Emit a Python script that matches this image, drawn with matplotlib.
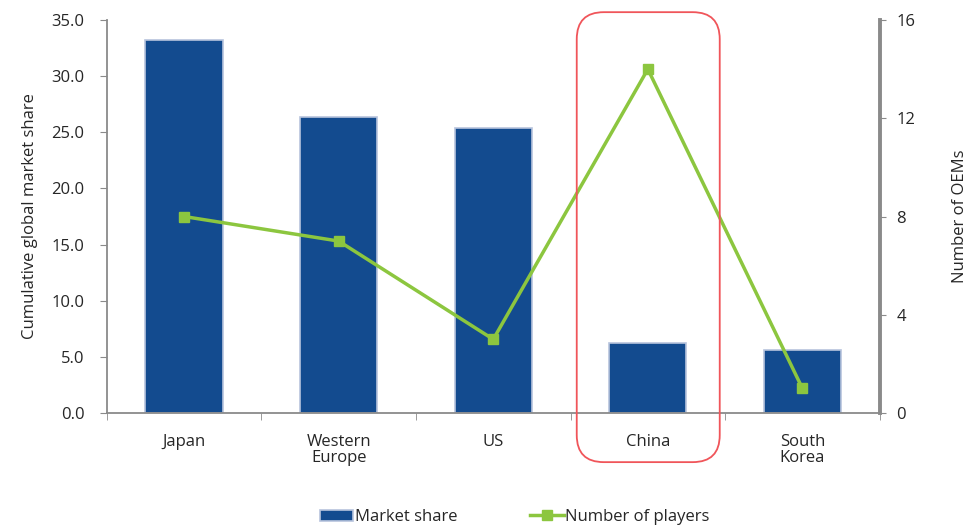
import matplotlib.pyplot as plt
from matplotlib.patches import FancyBboxPatch
import numpy as np

plt.rcParams['font.family'] = ['Open Sans', 'DejaVu Sans']

regions = ['Japan', 'Western\nEurope', 'US', 'China', 'South\nKorea']
market_share = [33.2, 26.4, 25.4, 6.2, 5.6]
num_players = [8, 7, 3, 14, 1]

bar_color = '#134b8f'
line_color = '#8cc63f'
axis_color = '#8a8a8a'
text_color = '#262626'
fs = 12

fig = plt.figure(figsize=(9.71, 5.27), dpi=100)
ax = fig.add_axes([0.110, 0.2163, 0.796, 0.7457])
x = np.arange(len(regions))

ax.bar(x, market_share, width=0.5, color=bar_color,
       edgecolor='#b7c4dd', linewidth=1.2, label='Market share', zorder=2)
ax.set_xlim(-0.5, len(regions) - 0.5)
ax.set_ylim(0, 35)
yt = np.arange(0, 35.1, 5)
ax.set_yticks(yt)
ax.set_yticklabels([f'{v:.1f}' for v in yt])
ax.set_ylabel('Cumulative global market share', fontsize=fs, color=text_color, labelpad=10)

# category labels centred, tick marks at category boundaries
ax.set_xticks(x)
ax.set_xticklabels(regions, fontsize=fs, color=text_color, linespacing=1.05)
ax.tick_params(axis='x', length=0, pad=15)
ax.set_xticks(np.arange(-0.5, len(regions)), minor=True)
ax.tick_params(axis='x', which='minor', length=5, color=axis_color, direction='out')
ax.tick_params(axis='y', length=5, color=axis_color, labelsize=fs, labelcolor=text_color, pad=11)

for side in ['top', 'right']:
    ax.spines[side].set_visible(False)
for side in ['left', 'bottom']:
    ax.spines[side].set_color(axis_color)
    ax.spines[side].set_linewidth(1.3)

ax2 = ax.twinx()
ax2.plot(x, num_players, color=line_color, linewidth=2.5, marker='s',
         markersize=7, label='Number of players', zorder=3)
ax2.set_ylim(0, 16)
ax2.set_yticks([0, 4, 8, 12, 16])
ax2.set_ylabel('Number of OEMs', fontsize=fs, color=text_color, labelpad=26)
ax2.tick_params(axis='y', length=4, color=axis_color, labelsize=fs,
                labelcolor=text_color, pad=8)
for side in ['top', 'left', 'bottom']:
    ax2.spines[side].set_visible(False)
ax2.spines['right'].set_color(axis_color)
ax2.spines['right'].set_linewidth(2.8)

# highlight box around China, built in inches so the corners stay round
to_inch = fig.dpi_scale_trans.inverted()
x0, y0 = to_inch.transform(ax.get_xaxis_transform().transform((2.54, -0.125)))
x1, y1 = to_inch.transform(ax.get_xaxis_transform().transform((3.465, 1.02)))
box = FancyBboxPatch((x0, y0), x1 - x0, y1 - y0,
                     boxstyle='round,pad=0,rounding_size=0.27',
                     transform=fig.dpi_scale_trans, fill=False,
                     edgecolor='#f0555a', linewidth=1.3, clip_on=False, zorder=5)
fig.add_artist(box)

h1, l1 = ax.get_legend_handles_labels()
h2, l2 = ax2.get_legend_handles_labels()
fig.legend(h1 + h2, l1 + l2, loc='lower center', bbox_to_anchor=(0.53, -0.025),
           ncol=2, frameon=False, fontsize=fs, handlelength=2.0,
           handletextpad=0.1, columnspacing=4.4, labelcolor=text_color)

fig.savefig('out.png', dpi=100)
